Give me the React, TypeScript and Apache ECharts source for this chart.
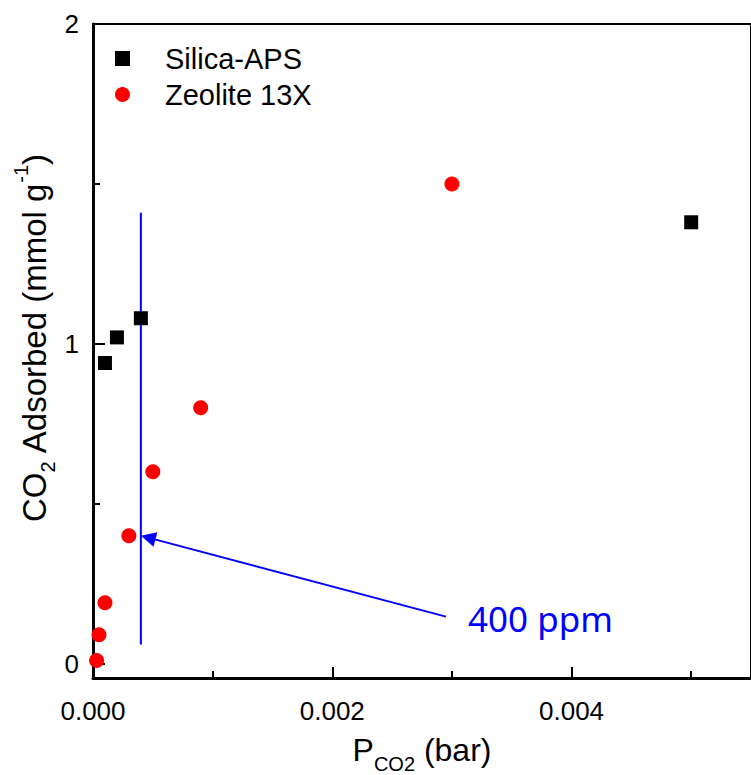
import React, { useEffect, useRef } from "react";
import * as echarts from "echarts";

// ---- data ----
const silicaX = [0.0001, 0.0002, 0.0004, 0.005];
const silicaY = [0.94, 1.02, 1.08, 1.38];
const zeoliteX = [0.00003, 0.00005, 0.0001, 0.0003, 0.0005, 0.0009, 0.003];
const zeoliteY = [0.01, 0.09, 0.19, 0.4, 0.6, 0.8, 1.5];

const ppmLineX = 0.0004;
const ppmLineY = [0.06, 1.41];
const arrowTail = [0.00295, 0.147];
const arrowTip = [0.0004, 0.4];

const xMajorTicks = [0, 0.002, 0.004];
const xMinorTicks = [0.001, 0.003, 0.005];
const yMajorTicks = [0, 1, 2];
const yMinorTicks = [0.5, 1.5];

const X_MIN = 0;
const X_MAX = 0.0055;
const Y_MIN = -0.045;
const Y_MAX = 2;

export default function App() {
  const ref = useRef<HTMLDivElement>(null);

  useEffect(() => {
    const chart = echarts.init(ref.current!, null, { renderer: "svg" });
    const font = "'Liberation Sans', Arial, sans-serif";

    // shorten arrow so that triangle tip (centered symbol) lands on arrowTip
    const shorten = 0.024;
    const arrowEnd = [
      arrowTip[0] + (arrowTail[0] - arrowTip[0]) * shorten,
      arrowTip[1] + (arrowTail[1] - arrowTip[1]) * shorten,
    ];

    const titleRich = {
      m: { fontSize: 32, fontFamily: font, color: "#000", lineHeight: 34 },
      s: { fontSize: 20, fontFamily: font, color: "#000", lineHeight: 34, padding: [28, 0, 0, 0] },
      p: { fontSize: 20, fontFamily: font, color: "#000", lineHeight: 34, padding: [0, 0, 26, 0] },
    };
    const yRich = {
      m: { ...titleRich.m, fontSize: 33 },
      s: titleRich.s,
      p: titleRich.p,
    };

    chart.setOption({
      animation: false,
      backgroundColor: "#fff",
      textStyle: { fontFamily: font },
      grid: {
        left: 93,
        top: 24,
        right: -6,
        bottom: 97,
        show: true,
        borderColor: "#000",
        borderWidth: 2,
        backgroundColor: "transparent",
      },
      legend: {
        orient: "vertical",
        left: 110,
        top: 39,
        itemWidth: 15,
        itemHeight: 15,
        itemGap: 7,
        data: ["Silica-APS", "Zeolite 13X"],
        textStyle: { fontSize: 29, color: "#000", fontFamily: font, padding: [0, 0, 0, 30] },
      },
      xAxis: [
        {
          type: "value",
          min: X_MIN,
          max: X_MAX,
          position: "bottom",
          axisLine: { onZero: false, lineStyle: { color: "#000", width: 3 } },
          axisTick: { inside: true, length: 11, customValues: xMajorTicks, lineStyle: { color: "#000", width: 2 } },
          axisLabel: {
            customValues: xMajorTicks,
            formatter: (v: number) => v.toFixed(3),
            fontSize: 26,
            color: "#000",
            margin: 20,
          },
          splitLine: { show: false },
        },
        {
          type: "value",
          min: X_MIN,
          max: X_MAX,
          position: "bottom",
          axisLine: { show: false, onZero: false },
          axisTick: { inside: true, length: 7, customValues: xMinorTicks, lineStyle: { color: "#000", width: 2 } },
          axisLabel: { show: false },
          splitLine: { show: false },
        },
      ],
      yAxis: [
        {
          type: "value",
          min: Y_MIN,
          max: Y_MAX,
          position: "left",
          axisLine: { onZero: false, lineStyle: { color: "#000", width: 3 } },
          axisTick: { inside: true, length: 12, customValues: yMajorTicks, lineStyle: { color: "#000", width: 2 } },
          axisLabel: {
            customValues: yMajorTicks,
            fontSize: 26,
            color: "#000",
            margin: 14,
          },
          splitLine: { show: false },
        },
        {
          type: "value",
          min: Y_MIN,
          max: Y_MAX,
          position: "left",
          axisLine: { show: false, onZero: false },
          axisTick: { inside: true, length: 7, customValues: yMinorTicks, lineStyle: { color: "#000", width: 2 } },
          axisLabel: { show: false },
          splitLine: { show: false },
        },
      ],
      series: [
        {
          name: "Silica-APS",
          type: "scatter",
          symbol: "rect",
          symbolSize: 14,
          itemStyle: { color: "#000", opacity: 1 },
          data: silicaX.map((x, i) => [x, silicaY[i]]),
          z: 5,
        },
        {
          name: "Zeolite 13X",
          type: "scatter",
          symbol: "circle",
          symbolSize: 15,
          itemStyle: { color: "#ff0000", opacity: 1 },
          data: zeoliteX.map((x, i) => [x, zeoliteY[i]]),
          z: 5,
        },
        {
          name: "400 ppm line",
          type: "line",
          showSymbol: false,
          symbol: "none",
          silent: true,
          lineStyle: { color: "#0000ff", width: 2 },
          data: ppmLineY.map((y) => [ppmLineX, y]),
          z: 3,
        },
        {
          name: "400 ppm arrow",
          type: "lines",
          coordinateSystem: "cartesian2d",
          silent: true,
          symbol: ["none", "triangle"],
          symbolSize: 15,
          lineStyle: { color: "#0000ff", width: 2, opacity: 1 },
          data: [{ coords: [arrowTail, arrowEnd] }],
          z: 4,
        },
      ],
      graphic: [
        {
          type: "text",
          x: 422,
          y: 750,
          style: {
            text: "{m|P}{s|CO2}{m| (bar)}",
            align: "center",
            verticalAlign: "middle",
            rich: titleRich,
          },
        },
        {
          type: "text",
          x: 34,
          y: 338,
          rotation: Math.PI / 2,
          style: {
            text: "{m|CO}{s|2}{m| Adsorbed (mmol g}{p|-1}{m|)}",
            align: "center",
            verticalAlign: "middle",
            rich: yRich,
          },
        },
        {
          type: "text",
          x: 468,
          y: 618,
          style: {
            text: "400 ppm",
            fill: "#0000ff",
            fontSize: 35,
            fontFamily: "'Noto Sans', sans-serif",
            align: "left",
            verticalAlign: "middle",
          },
        },
      ],
    });

    return () => chart.dispose();
  }, []);

  return (
    <div
      ref={ref}
      style={{ position: "fixed", left: 0, top: 0, width: 751, height: 775, background: "#fff" }}
    />
  );
}
